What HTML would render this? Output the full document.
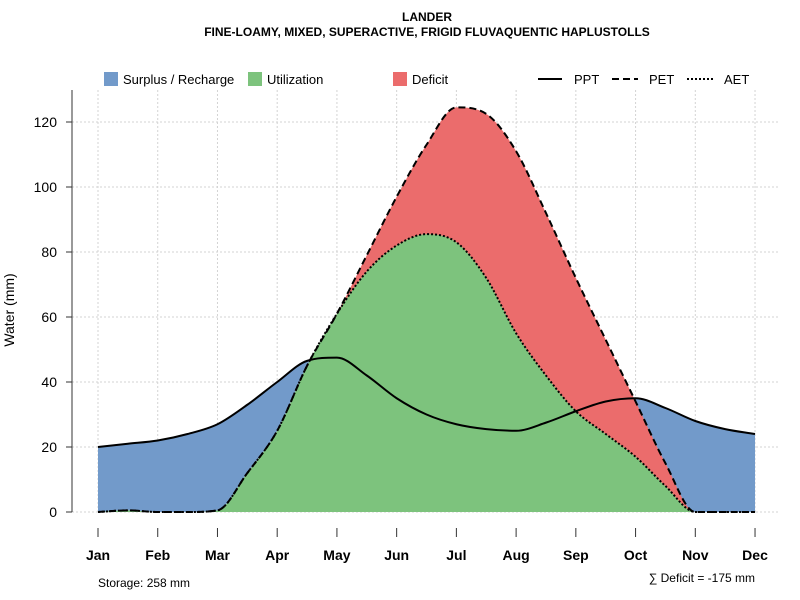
<!DOCTYPE html>
<html><head><meta charset="utf-8"><style>body{margin:0;background:#fff}svg{display:block;font-family:"Liberation Sans",sans-serif}</style></head>
<body>
<svg id="s" width="800" height="600" xmlns="http://www.w3.org/2000/svg">
<text x="427" y="21" font-size="12" font-weight="bold" text-anchor="middle">LANDER</text>
<text x="427" y="36" font-size="12" font-weight="bold" text-anchor="middle">FINE-LOAMY, MIXED, SUPERACTIVE, FRIGID FLUVAQUENTIC HAPLUSTOLLS</text>
<g id="grid" stroke="#d3d3d3" stroke-dasharray="2,2" stroke-width="1"></g>
<g id="fills"></g>
<g id="lines" fill="none" stroke="#000" stroke-width="2"></g>
<line x1="72" y1="90" x2="72" y2="512" stroke="#333"/>
<g id="ax" font-size="14"></g>
<text transform="translate(14,310) rotate(-90)" font-size="14" text-anchor="middle">Water (mm)</text>
<rect x="104" y="72" width="14" height="14" fill="#729ACA"/><text x="123" y="84" font-size="13">Surplus / Recharge</text>
<rect x="248" y="72" width="14" height="14" fill="#7DC37D"/><text x="267" y="84" font-size="13">Utilization</text>
<rect x="393" y="72" width="14" height="14" fill="#EB6C6C"/><text x="412" y="84" font-size="13">Deficit</text>
<line x1="538" y1="79" x2="562" y2="79" stroke="#000" stroke-width="2"/><text x="574" y="84" font-size="13">PPT</text>
<line x1="612" y1="79" x2="638" y2="79" stroke="#000" stroke-width="2" stroke-dasharray="7,4"/><text x="649" y="84" font-size="13">PET</text>
<line x1="687" y1="79" x2="713" y2="79" stroke="#000" stroke-width="2" stroke-dasharray="2,2"/><text x="724" y="84" font-size="13">AET</text>
<text x="98" y="587" font-size="12">Storage: 258 mm</text>
<text x="755" y="582" font-size="12" text-anchor="end">∑ Deficit = -175 mm</text>
</svg>
<script>
var X=m=>98+m*59.73,Y=v=>512-3.25*v;
var PPT=[20,21,22,24,27,33,40,46.5,47.5,42,35,30,27,25.5,25,27.5,31,34,35,32,28,25.5,24];
var PET=[0,0.5,0,0,0.5,12,25,45,61,79,97,113,124.5,122.5,111,92,72,53,34,15,0,0,0];
var AET=[0,0.5,0,0,0.5,12,25,45,61,74,82,85.5,83,72,55,42,31,24,17,8,0,0,0];
function path(y){var n=y.length,h=0.5,d=[],m=[];
for(var i=0;i<n-1;i++)d.push((y[i+1]-y[i])/h);
for(i=0;i<n;i++){if(i==0)m.push(d[0]);else if(i==n-1)m.push(d[n-2]);else m.push(d[i-1]*d[i]<=0?0:(d[i-1]+d[i])/2);}
for(i=0;i<n-1;i++){if(d[i]==0){m[i]=0;m[i+1]=0;continue;}var a=m[i]/d[i],b=m[i+1]/d[i],s=a*a+b*b;if(s>9){var t=3/Math.sqrt(s);m[i]=t*a*d[i];m[i+1]=t*b*d[i];}}
var p="M"+X(0)+","+Y(y[0]);
for(i=0;i<n-1;i++){var x0=i*h,x1=x0+h;p+="C"+X(x0+h/3)+","+Y(y[i]+m[i]*h/3)+" "+X(x1-h/3)+","+Y(y[i+1]-m[i+1]*h/3)+" "+X(x1)+","+Y(y[i+1]);}
return p;}
var ns="http://www.w3.org/2000/svg";
function el(g,t,at,txt){var e=document.createElementNS(ns,t);for(var k in at)e.setAttribute(k,at[k]);if(txt!==undefined)e.textContent=txt;document.getElementById(g).appendChild(e);}
for(var m=0;m<12;m++)el("grid","line",{x1:X(m),x2:X(m),y1:90,y2:512});
for(var v=0;v<=120;v+=20){el("grid","line",{x1:72,x2:780,y1:Y(v),y2:Y(v)});
el("ax","line",{x1:66,x2:72,y1:Y(v),y2:Y(v),stroke:"#333"});el("ax","text",{x:57,y:Y(v)+5,"text-anchor":"end"},String(v));}
var mn=["Jan","Feb","Mar","Apr","May","Jun","Jul","Aug","Sep","Oct","Nov","Dec"];
mn.forEach((n,m)=>{el("ax","line",{x1:X(m),x2:X(m),y1:528,y2:537,stroke:"#333"});el("ax","text",{x:X(m),y:560,"text-anchor":"middle","font-weight":"bold"},n);});
var close=" L"+X(11)+","+Y(0)+" L"+X(0)+","+Y(0)+"Z";
el("fills","path",{d:path(PPT)+close,fill:"#729ACA"});
el("fills","path",{d:path(PET)+close,fill:"#EB6C6C"});
el("fills","path",{d:path(AET)+close,fill:"#7DC37D"});
el("lines","path",{d:path(PPT)});
el("lines","path",{d:path(PET),"stroke-dasharray":"7,4"});
el("lines","path",{d:path(AET),"stroke-dasharray":"2,2"});
</script>
</body></html>
